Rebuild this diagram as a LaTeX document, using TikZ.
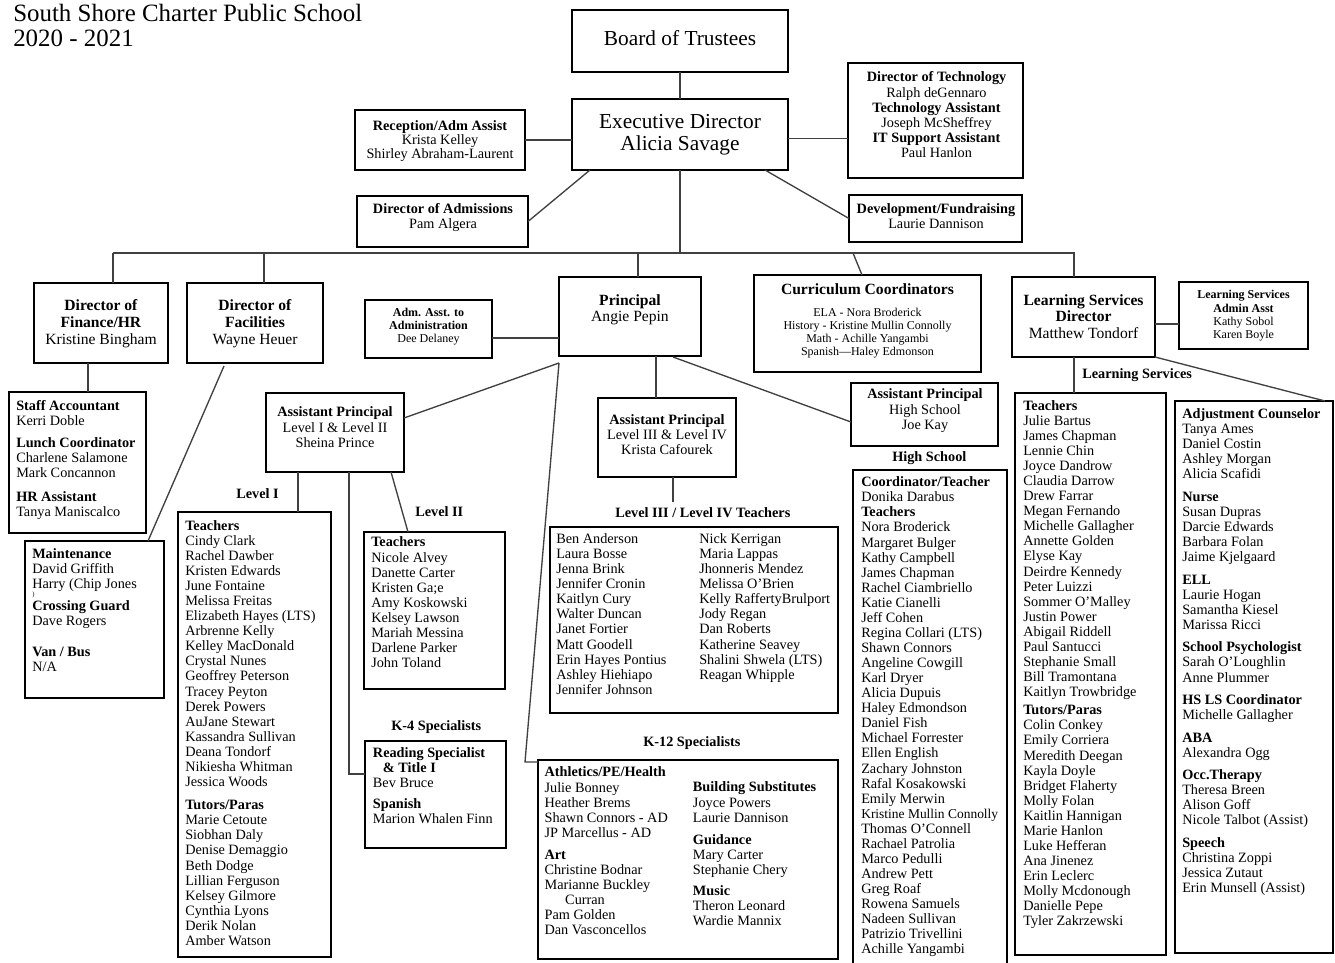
\documentclass[tikz,border=0pt]{standalone}
\usepackage{fontspec}
\setmainfont{Liberation Serif}
\usetikzlibrary{calc}
\tikzset{
 box/.style={draw=black, line width=2.2pt, inner sep=0pt, outer sep=0pt},
 con/.style={draw=black!75, line width=1pt},
 f10/.style={font=\fontsize{10.7}{11.3}\selectfont, inner sep=0pt},
 f12/.style={font=\fontsize{11.7}{12.4}\selectfont, inner sep=0pt},
 f16/.style={font=\fontsize{16}{16.3}\selectfont, inner sep=0pt},
 f9/.style={font=\fontsize{9}{9.7}\selectfont, inner sep=0pt},
 ttl/.style={font=\fontsize{18.7}{18.75}\selectfont, inner sep=0pt},
}
\newcommand{\bx}[5]{\node[box,minimum width={(#4-#2)*0.75pt},minimum height={(#5-#3)*0.75pt}] (#1) at ({(#2+#4)/2},{(#3+#5)/2}) {};}
\newcommand{\txL}[4]{\node[f10,align=left,anchor=north west] (#1) at (#2,{#3-10.55}) {\strut#4};}
\newcommand{\txC}[4]{\node[f10,align=center,anchor=north] (#1) at (#2,{#3-10.55}) {\strut#4};}
\newcommand{\txB}[4]{\node[f12,align=center,anchor=north] (#1) at (#2,{#3-11.57}) {\strut#4};}
\newcommand{\txH}[4]{\node[f16,align=center,anchor=north] (#1) at (#2,{#3-15.21}) {\strut#4};}
\newcommand{\txS}[4]{\node[f9,align=center,anchor=north] (#1) at (#2,{#3-9.05}) {\strut#4};}
\begin{document}
\begin{tikzpicture}[x=0.75pt,y=-0.75pt]
\fill[white] (0,0) rectangle (1335,963);
\useasboundingbox (0,0) rectangle (1335,963);
% ---------- boxes ----------
\bx{bot}{572}{10}{788}{72}
\bx{exec}{572}{99}{788}{170}
\bx{rec}{355}{110}{525}{170}
\bx{tech}{848}{63}{1023}{178}
\bx{adm}{357}{196}{528}{247}
\bx{dev}{849}{195}{1022}{242}
\bx{fin}{34}{283}{168}{363}
\bx{fac}{187}{283}{323}{363}
\bx{aas}{365}{300}{492}{358}
\bx{prin}{559}{277}{701}{356}
\bx{cur}{754}{275}{981}{372}
\bx{lsd}{1012}{277}{1155}{357}
\bx{lsa}{1179}{282}{1308}{349}
\bx{sa}{9}{392}{146}{533}
\bx{mnt}{25}{541}{164}{698}
\bx{ap12}{266}{393}{404}{472}
\bx{ap34}{598}{398}{736}{477}
\bx{aphs}{851}{383}{998}{446}
\bx{lone}{178}{512}{331}{957}
\bx{ltwo}{364}{532}{505}{689}
\bx{rd}{365}{741}{506}{848}
\bx{lthree}{550}{527}{838}{713}
\bx{k12}{538}{760}{838}{959}
\bx{hs}{853}{470}{1007}{985}
\bx{lst}{1015}{393}{1166}{955}
\bx{lsr}{1175}{401}{1333}{953}
% ---------- connectors ----------
\coordinate (tFin) at (113,253);
\coordinate (tFac) at (264,253);
\coordinate (tPrin) at (638,253);
\coordinate (tCur) at (853,253);
\coordinate (tLS) at (1074,253);
\draw[con] (bot.south) -- (exec.north);
\draw[con] (exec.south) -- (exec.south |- tFin);
\draw[con] (tFin) -- (tLS) -- (tLS |- lsd.north);
\draw[con] (tFin) -- (tFin |- fin.north);
\draw[con] (tFac) -- (tFac |- fac.north);
\draw[con] (tPrin) -- (tPrin |- prin.north);
\draw[con] (tCur) -- ($(cur.north west)+(108,0)$);
\draw[con] (rec.east) -- (rec.east -| exec.west);
\coordinate (eT) at ($(exec.east)+(0,4)$);
\draw[con] (eT) -- (eT -| tech.west);
\draw[con] ($(exec.south west)+(18,0)$) -- (adm.east);
\draw[con] ($(exec.south east)+(-23,0)$) -- (dev.west);
\coordinate (fS) at ($(fin.south)+(-13,0)$);
\draw[con] (fS) -- (fS |- sa.north);
\draw[con] ($(fac.south)+(-31,3)$) -- ($(mnt.north east)+(-16,0)$);
\coordinate (aE) at ($(aas.east)+(0,9)$);
\draw[con] (aE) -- (aE -| prin.west);
\coordinate (pL) at ($(prin.south west)+(0,7)$);
\draw[con] (pL) -- ($(ap12.north east)+(0,25)$);
\coordinate (kC) at ($(k12.north west)+(-13,2)$);
\draw[con] (pL) -- (kC) -- (kC -| k12.west);
\coordinate (a34) at ($(ap34.north west)+(58,0)$);
\draw[con] (a34 |- prin.south) -- (a34);
\draw[con] ($(prin.south east)+(-28,1)$) -- ($(aphs.west)+(0,7.5)$);
\coordinate (a1) at ($(ap12.south west)+(32,0)$);
\draw[con] (a1) -- (a1 |- lone.north);
\draw[con] ($(ap12.south east)+(-13,0)$) -- ($(ltwo.north west)+(44,0)$);
\coordinate (r1) at ($(ap12.south west)+(83,0)$);
\coordinate (r2) at ($(rd.north west)+(0,33)$);
\draw[con] (r1) -- (r1 |- r2) -- (r2);
\coordinate (a34s) at ($(ap34.south)+(6,0)$);
\coordinate (a34e) at ($(ap34.south)+(6,25)$);
\draw[con] (a34s) -- (a34e);
\coordinate (lS) at ($(lsd.south)+(-9.5,0)$);
\draw[con] (lS) -- (lS |- lst.north);
\coordinate (lE) at ($(lsd.east)+(0,7)$);
\draw[con] (lE) -- (lE -| lsa.west);
\draw[con] (lsd.south east) -- ($(lsr.north east)+(-8,0)$);
% ---------- texts ----------
\node[ttl,align=left,anchor=north west] (title) at (13,{21.7-17.5}) {\strut South Shore Charter Public School\\2020 - 2021};
\txH{botT}{680}{45}{Board of Trustees}
\txH{execT}{680}{128.3}{Executive Director\\Alicia Savage}
\txC{recT}{440}{130}{\textbf{Reception/Adm Assist}\\[-0.8pt]Krista Kelley\\[-0.8pt]Shirley Abraham-Laurent}
\txC{techT}{936.5}{81.7}{\textbf{Director of Technology}\\Ralph deGennaro\\\textbf{Technology Assistant}\\Joseph McSheffrey\\\textbf{IT Support Assistant}\\Paul Hanlon}
\txC{admT}{443}{213.3}{\textbf{Director of Admissions}\\Pam Algera}
\txC{devT}{936}{213.3}{\textbf{Development/Fundraising}\\Laurie Dannison}
\txB{finT}{101}{310.7}{\textbf{Director of}\\\textbf{Finance/HR}\\Kristine Bingham}
\txB{facT}{255}{310.7}{\textbf{Director of}\\\textbf{Facilities}\\Wayne Heuer}
\txS{aasT}{428.5}{316}{\textbf{Adm. Asst. to}\\\textbf{Administration}\\Dee Delaney}
\txB{prinT}{630}{305}{\textbf{Principal}\\Angie Pepin}
\txB{curT}{867.5}{294.3}{\textbf{Curriculum Coordinators}}
\txS{curL}{867.5}{316}{ELA - Nora Broderick\\History - Kristine Mullin Connolly\\Math - Achille Yangambi\\Spanish—Haley Edmonson}
\txB{lsdT}{1083.5}{305}{\textbf{Learning Services}\\\textbf{Director}\\Matthew Tondorf}
\txS{lsaT}{1243.5}{298.3}{\textbf{Learning Services}\\[0.4pt]\textbf{Admin Asst}\\[0.4pt]Kathy Sobol\\[0.4pt]Karen Boyle}
% labels
\txL{lblI}{236}{498.3}{\textbf{Level I}}
\txL{lblII}{415}{516.7}{\textbf{Level II}}
\txL{lblK4}{391}{730}{\textbf{K-4 Specialists}}
\txL{lblIII}{615}{517.3}{\textbf{Level III / Level IV Teachers}}
\txL{lblK12}{643}{746.7}{\textbf{K-12 Specialists}}
\txL{lblHS}{892}{461.7}{\textbf{High School}}
\txL{lblLS}{1082}{378.3}{\textbf{Learning Services}}
% box contents
\txC{ap12T}{335}{416.7}{\textbf{Assistant Principal}\\[0.5pt]Level I \& Level II\\Sheina Prince}
\txC{ap34T}{667}{424.3}{\textbf{Assistant Principal}\\Level III \& Level IV\\Krista Cafourek}
\txC{aphsT}{925}{398.3}{\textbf{Assistant Principal}\\[0.5pt]High School\\Joe Kay}
\txL{saT}{16}{410}{\textbf{Staff Accountant}\\Kerri Doble\\[5pt]\textbf{Lunch Coordinator}\\Charlene Salamone\\Mark Concannon\\[6.7pt]\textbf{HR Assistant}\\Tanya Maniscalco}
\txL{mntT}{32}{558.3}{\textbf{Maintenance}\\David Griffith\\Harry (Chip Jones\\[5pt]\textbf{Crossing Guard}\\Dave Rogers\\[11.6pt]\textbf{Van / Bus}\\N/A}
\node[font=\fontsize{5}{6}\selectfont, inner sep=0pt] (paren) at (33.5,595) {)};
\txL{loneT}{185}{530}{\textbf{Teachers}\\Cindy Clark\\Rachel Dawber\\Kristen Edwards\\June Fontaine\\Melissa Freitas\\Elizabeth Hayes (LTS)\\Arbrenne Kelly\\Kelley MacDonald\\Crystal Nunes\\Geoffrey Peterson\\Tracey Peyton\\Derek Powers\\AuJane Stewart\\Kassandra Sullivan\\Deana Tondorf\\Nikiesha Whitman\\Jessica Woods\\[6.2pt]\textbf{Tutors/Paras}\\Marie Cetoute\\Siobhan Daly\\Denise Demaggio\\Beth Dodge\\Lillian Ferguson\\Kelsey Gilmore\\Cynthia Lyons\\Derik Nolan\\Amber Watson}
\txL{ltwoT}{371}{546.7}{\textbf{Teachers}\\Nicole Alvey\\Danette Carter\\Kristen Ga;e\\Amy Koskowski\\Kelsey Lawson\\Mariah Messina\\Darlene Parker\\John Toland}
\txL{rdT}{372.7}{757.3}{\textbf{Reading Specialist}\\\hspace*{7.5pt}\textbf{\& Title I}\\Bev Bruce\\[4.1pt]\textbf{Spanish}\\Marion Whalen Finn}
\txL{lthreeA}{556}{543.3}{Ben Anderson\\Laura Bosse\\Jenna Brink\\Jennifer Cronin\\Kaitlyn Cury\\Walter Duncan\\Janet Fortier\\Matt Goodell\\Erin Hayes Pontius\\Ashley Hiehiapo\\Jennifer Johnson}
\txL{lthreeB}{699}{543.3}{Nick Kerrigan\\Maria Lappas\\Jhonneris Mendez\\Melissa O'Brien\\Kelly RaffertyBrulport\\Jody Regan\\Dan Roberts\\Katherine Seavey\\Shalini Shwela (LTS)\\Reagan Whipple}
\txL{kA}{544.3}{776.7}{\textbf{Athletics/PE/Health}\\Julie Bonney\\Heather Brems\\Shawn Connors - AD\\JP Marcellus - AD\\[5.2pt]\textbf{Art}\\Christine Bodnar\\Marianne Buckley\\\hspace*{15.5pt}Curran\\Pam Golden\\Dan Vasconcellos}
\txL{kB}{692.7}{791.7}{\textbf{Building Substitutes}\\Joyce Powers\\Laurie Dannison\\[5.5pt]\textbf{Guidance}\\Mary Carter\\Stephanie Chery\\[4.5pt]\textbf{Music}\\Theron Leonard\\Wardie Mannix}
\txL{hsT}{861}{486.5}{\textbf{Coordinator/Teacher}\\Donika Darabus\\\textbf{Teachers}\\Nora Broderick\\Margaret Bulger\\Kathy Campbell\\James Chapman\\Rachel Ciambriello\\Katie Cianelli\\Jeff Cohen\\Regina Collari (LTS)\\Shawn Connors\\Angeline Cowgill\\Karl Dryer\\Alicia Dupuis\\Haley Edmondson\\Daniel Fish\\Michael Forrester\\Ellen English\\Zachary Johnston\\Rafal Kosakowski\\Emily Merwin\\{\fontsize{10.1}{11.3}\selectfont Kristine Mullin Connolly}\\Thomas O'Connell\\Rachael Patrolia\\Marco Pedulli\\Andrew Pett\\Greg Roaf\\Rowena Samuels\\Nadeen Sullivan\\Patrizio Trivellini\\Achille Yangambi}
\txL{lstT}{1023}{410}{\textbf{Teachers}\\Julie Bartus\\James Chapman\\Lennie Chin\\Joyce Dandrow\\Claudia Darrow\\Drew Farrar\\Megan Fernando\\Michelle Gallagher\\Annette Golden\\Elyse Kay\\Deirdre Kennedy\\Peter Luizzi\\Sommer O'Malley\\Justin Power\\Abigail Riddell\\Paul Santucci\\Stephanie Small\\Bill Tramontana\\Kaitlyn Trowbridge\\[2.4pt]\textbf{Tutors/Paras}\\Colin Conkey\\Emily Corriera\\Meredith Deegan\\Kayla Doyle\\Bridget Flaherty\\Molly Folan\\Kaitlin Hannigan\\Marie Hanlon\\Luke Hefferan\\Ana Jinenez\\Erin Leclerc\\Molly Mcdonough\\Danielle Pepe\\Tyler Zakrzewski}
\txL{lsrT}{1182}{418.3}{\textbf{Adjustment Counselor}\\Tanya Ames\\Daniel Costin\\Ashley Morgan\\Alicia Scafidi\\[5.6pt]\textbf{Nurse}\\Susan Dupras\\Darcie Edwards\\Barbara Folan\\Jaime Kjelgaard\\[5.6pt]\textbf{ELL}\\Laurie Hogan\\Samantha Kiesel\\Marissa Ricci\\[5.6pt]\textbf{School Psychologist}\\Sarah O'Loughlin\\Anne Plummer\\[5.6pt]\textbf{HS LS Coordinator}\\Michelle Gallagher\\[5.6pt]\textbf{ABA}\\Alexandra Ogg\\[5.6pt]\textbf{Occ.Therapy}\\Theresa Breen\\Alison Goff\\Nicole Talbot (Assist)\\[5.6pt]\textbf{Speech}\\Christina Zoppi\\Jessica Zutaut\\Erin Munsell (Assist)}
\end{tikzpicture}
\end{document}
